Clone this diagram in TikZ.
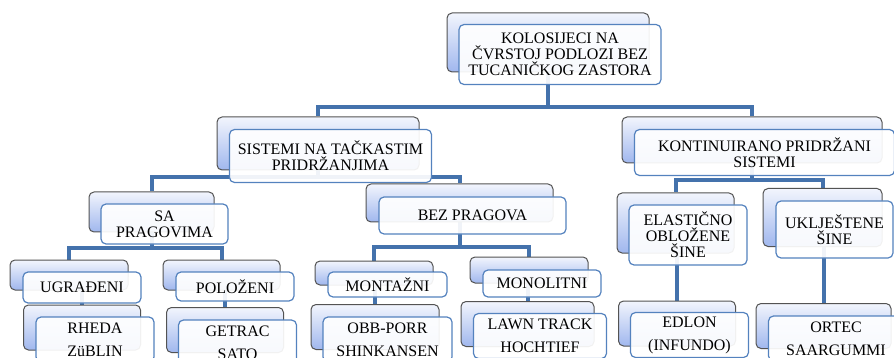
\documentclass[tikz,border=0pt]{standalone}
\usepackage{fontspec}
\setmainfont{Liberation Serif}
\usepackage{tikz}
\definecolor{linkblue}{RGB}{68,114,172}
\definecolor{frontblue}{RGB}{84,130,190}
\definecolor{backtop}{RGB}{242,245,253}
\definecolor{backblue}{RGB}{160,183,238}
\pgfdeclarelayer{bg}
\pgfsetlayers{bg,main}

\begin{document}
\begin{tikzpicture}[x=1pt,y=-1pt,
	sz/.style 2 args={minimum width=#1pt,minimum height=#2pt},
	back/.style={draw=gray!65!black,line width=1pt,rounded corners=5pt,top color=backtop,bottom color=backblue,inner sep=0pt},
	front/.style={draw=frontblue,line width=1.2pt,rounded corners=5pt,fill=white,fill opacity=0.92,text opacity=1,align=center,inner sep=0pt,font=\fontsize{16}{16}\selectfont},
	leaf/.style={front,font=\fontsize{16}{23}\selectfont},
	link/.style={draw=linkblue,line width=4pt}]
	\useasboundingbox (0,0) rectangle (894,358);
	% buses
	\coordinate (bus_0) at (0,107);
	\coordinate (bus_1) at (0,177);
	\coordinate (bus_2) at (0,180);
	\coordinate (bus_3) at (0,248);
	\coordinate (bus_4) at (0,247);
	% level 0
	\node[back,sz={202}{59}] (root_b) at (548,42.5) {};
	\node[front,sz={202}{60}] (root) at ([shift={(12,12)}]root_b) {KOLOSIJECI NA\\ČVRSTOJ PODLOZI BEZ\\TUCANIČKOG ZASTORA};
	% level 1
	\node[back,sz={202}{53}] (tacka_b) at (318,143.5) {};
	\node[front,sz={202}{53}] (tacka) at ([shift={(12.5,12.5)}]tacka_b) {SISTEMI NA TAČKASTIM\\PRIDRŽANJIMA};
	\node[back,sz={260}{46}] (kont_b) at (752,140) {};
	\node[front,sz={260}{46}] (kont) at ([shift={(12.5,12.5)}]kont_b) {KONTINUIRANO PRIDRŽANI\\SISTEMI};
	% level 2
	\node[back,sz={125}{40}] (sa_b) at (151.5,212) {};
	\node[front,sz={127}{40}] (sa) at ([shift={(13,12)}]sa_b) {SA\\PRAGOVIMA};
	\node[back,sz={187}{38}] (bez_b) at (459.5,203) {};
	\node[front,sz={187}{37}] (bez) at ([shift={(13,12.5)}]bez_b) {BEZ PRAGOVA};
	\node[back,sz={117}{60}] (elast_b) at (675.5,223) {};
	\node[front,sz={118}{60}] (elast) at ([shift={(12.5,12)}]elast_b) {ELASTIČNO\\OBLOŽENE\\ŠINE};
	\node[back,sz={119}{58}] (uklj_b) at (822.5,217.5) {};
	\node[front,sz={117}{57}] (uklj) at ([shift={(12,12)}]uklj_b) {UKLJEŠTENE\\ŠINE};
	% level 3
	\node[back,sz={118}{30}] (ugr_b) at (69,275) {};
	\node[front,sz={118}{31}] (ugr) at ([shift={(13,12.5)}]ugr_b) {UGRAĐENI};
	\node[back,sz={117}{30}] (pol_b) at (221.5,275) {};
	\node[front,sz={118}{29}] (pol) at ([shift={(13.5,11.5)}]pol_b) {POLOŽENI};
	\node[back,sz={118}{24}] (mont_b) at (374,273) {};
	\node[front,sz={119}{25}] (mont) at ([shift={(13.5,11.5)}]mont_b) {MONTAŽNI};
	\node[back,sz={118}{26}] (mono_b) at (529,270) {};
	\node[front,sz={118}{27}] (mono) at ([shift={(13,13.5)}]mono_b) {MONOLITNI};
	% leaves
	\node[back,sz={117}{45}] (rheda_b) at (82,327.5) {};
	\node[leaf,sz={118}{45}] (rheda) at ([shift={(13,12)}]rheda_b) {RHEDA\\ZüBLIN};
	\node[back,sz={117}{45}] (getrac_b) at (225,330) {};
	\node[leaf,sz={118}{45}] (getrac) at ([shift={(12.5,12.5)}]getrac_b) {GETRAC\\SATO};
	\node[back,sz={128}{45}] (obb_b) at (375,327) {};
	\node[leaf,sz={129}{45}] (obb) at ([shift={(12.5,12.5)}]obb_b) {OBB-PORR\\SHINKANSEN};
	\node[back,sz={133}{45}] (lawn_b) at (527.5,324) {};
	\node[leaf,sz={133}{45}] (lawn) at ([shift={(12.5,12)}]lawn_b) {LAWN TRACK\\HOCHTIEF};
	\node[back,sz={117}{45}] (edlon_b) at (677,323.5) {};
	\node[leaf,sz={118}{45}] (edlon) at ([shift={(12.5,11.5)}]edlon_b) {EDLON\\(INFUNDO)};
	\node[back,sz={135}{45}] (ortec_b) at (823.5,326) {};
	\node[leaf,sz={135}{45}] (ortec) at ([shift={(12.5,12.5)}]ortec_b) {ORTEC\\SAARGUMMI};
	% connectors
	\begin{pgfonlayer}{bg}
	\path[link]
	(root_b) |- (tacka_b |- bus_0) -- (tacka_b)
	(root_b) |- (kont_b |- bus_0) -- (kont_b)
	(tacka_b) |- (sa_b |- bus_1) -- (sa_b)
	(tacka_b) |- (bez_b |- bus_1) -- (bez_b)
	(kont_b) |- (elast_b |- bus_2) -- (elast_b)
	(kont_b) |- (uklj_b |- bus_2) -- (uklj_b)
	(sa_b) |- (ugr_b |- bus_3) -- (ugr_b)
	(sa_b) |- (pol_b |- bus_3) -- (pol_b)
	(bez_b) |- (mont_b |- bus_4) -- (mont_b)
	(bez_b) |- (mono_b |- bus_4) -- (mono_b)
	(ugr_b) -- (ugr_b -| rheda_b) -- (rheda_b)
	(pol_b) -- (pol_b -| getrac_b) -- (getrac_b)
	(mont_b) -- (mont_b -| obb_b) -- (obb_b)
	(mono_b) -- (mono_b -| lawn_b) -- (lawn_b)
	(elast_b) -- (elast_b -| edlon_b) -- (edlon_b)
	(uklj_b) -- (uklj_b -| ortec_b) -- (ortec_b)
	;
	\end{pgfonlayer}
\end{tikzpicture}
\end{document}
